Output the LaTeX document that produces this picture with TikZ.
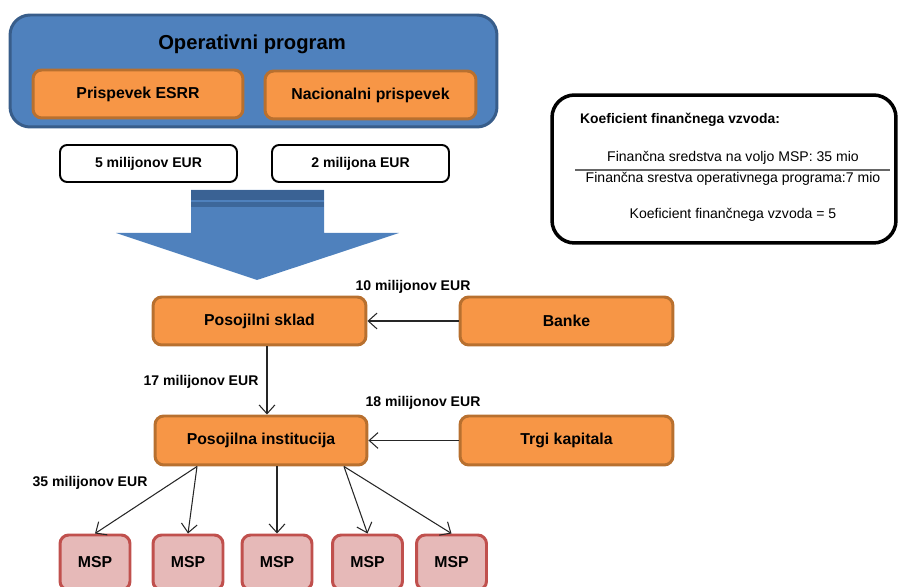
\documentclass[tikz,border=0pt]{standalone}
\usepackage{fontspec}
\setmainfont{Liberation Sans}
\usetikzlibrary{arrows.meta}

\definecolor{opblue}{HTML}{4F81BD}
\definecolor{opblueline}{HTML}{385D8A}
\definecolor{opbluedark}{HTML}{3A6294}
\definecolor{orfill}{HTML}{F79646}
\definecolor{orline}{HTML}{B8702F}
\definecolor{mspfill}{HTML}{E6B9B8}
\definecolor{mspline}{HTML}{C0504D}
\definecolor{arrline}{HTML}{262626}

\tikzset{
  orbox/.style={draw=orline, fill=orfill, line width=1.7pt, rounded corners=5pt,
    font=\bfseries\fontsize{9}{11}\selectfont, minimum height=0.96cm},
  eurbox/.style={draw=black, fill=white, line width=1.1pt, rounded corners=4pt,
    font=\bfseries\fontsize{8}{10}\selectfont, minimum width=3.54cm, minimum height=0.74cm},
  mspbox/.style={draw=mspline, fill=mspfill, line width=1.7pt, rounded corners=5pt,
    font=\bfseries\fontsize{9}{11}\selectfont, minimum width=1.4cm, minimum height=1.1cm},
  amount/.style={font=\bfseries\fontsize{8}{10}\selectfont},
  koeftext/.style={font=\fontsize{8}{10}\selectfont},
  flow/.style={draw=arrline, line width=0.6pt, -{Straight Barb[length=5pt,width=9pt]}}
}

\begin{document}
\begin{tikzpicture}[x=0.02cm, y=-0.02cm]
  \useasboundingbox (0,0) rectangle (904,587);
  \clip (0,0) rectangle (904,587);

% Operativni program on top
    \node[draw=opblueline, fill=opblue, line width=1.7pt, rounded corners=0.4cm,
      minimum width=9.74cm, minimum height=2.24cm] (op) at (253.5,71) {};
    \node[font=\bfseries\fontsize{11.5}{13}\selectfont] (optitle) at (252,44) {Operativni program};
    \node[orbox, minimum width=4.2cm] (esrr) at (138,94) {Prispevek ESRR};
    \node[orbox, minimum width=4.22cm] (nac) at (370.5,95) {Nacionalni prispevek};

% Amounts below
    \node[eurbox] (eur5) at (148.5,163.5) {5 milijonov EUR};
    \node[eurbox] (eur2) at (360.5,163.5) {2 milijona EUR};

% Big arrow down
  \fill[opblue] (191,190) -- (324,190) -- (324,233) -- (399,233) -- (257,280)
     -- (116,233) -- (191,233) -- cycle;
  \fill[opbluedark] (191,190) rectangle (324,200);
  \fill[opbluedark!85!opblue] (191,202) rectangle (324,207);

% Koeficient box
    \node[draw=black, line width=2pt, rounded corners=0.45cm,
      minimum width=6.88cm, minimum height=2.96cm] (koef) at (724,169) {};
    \node[font=\bfseries\fontsize{7.9}{10}\selectfont, anchor=west] (koefhead) at (574,120) {Koeficient finančnega vzvoda:};
    \node[koeftext] (numer) at (733,158) {Finančna sredstva na voljo MSP: 35 mio};
    \draw[black!60, line width=0.8pt] (575,170) -- (890,170);
    \node[koeftext] (denom) at (733,179) {Finančna srestva operativnega programa:7 mio};
    \node[koeftext] (result) at (733,215) {Koeficient finančnega vzvoda = 5};

% Lower chain
    \node[orbox, minimum width=4.26cm] (skl) at (259.5,321) {Posojilni sklad};
    \node[orbox, minimum width=4.26cm] (banke) at (566.5,321) {Banke};
    \node[orbox, minimum width=4.24cm, minimum height=0.98cm] (inst) at (261,440.5) {Posojilna institucija};
    \node[orbox, minimum width=4.26cm, minimum height=0.98cm] (trgi) at (566.5,440.5) {Trgi kapitala};

    \node[mspbox] (msp1) at (95,562.5) {MSP};
    \node[mspbox] (msp2) at (188,562.5) {MSP};
    \node[mspbox] (msp3) at (277,562.5) {MSP};
    \node[mspbox] (msp4) at (367.5,562.5) {MSP};
    \node[mspbox] (msp5) at (451.5,562.5) {MSP};

% Connectors
  \draw[flow] (banke.west) -- (skl.east);
  \draw[flow] ([xshift=0.15cm]skl.south) -- ([xshift=0.15cm]skl.south |- inst.north);
  \draw[flow] (trgi.west) -- (inst.east);
  \draw[flow] ([xshift=-1.28cm]inst.south) -- (msp1.north);
  \draw[flow] ([xshift=-1.28cm]inst.south) -- (msp2.north);
  \draw[flow] (inst.south -| msp3.north) -- (msp3.north);
  \draw[flow] ([xshift=1.66cm]inst.south) -- (msp4.north);
  \draw[flow] ([xshift=1.66cm]inst.south) -- (msp5.north);

% Amount labels
    \node[amount] (l10) at (413,287) {10 milijonov EUR};
    \node[amount] (l17) at (201,382) {17 milijonov EUR};
    \node[amount] (l18) at (423,403) {18 milijonov EUR};
    \node[amount] (l35) at (90,483) {35 milijonov EUR};

\end{tikzpicture}
\end{document}
